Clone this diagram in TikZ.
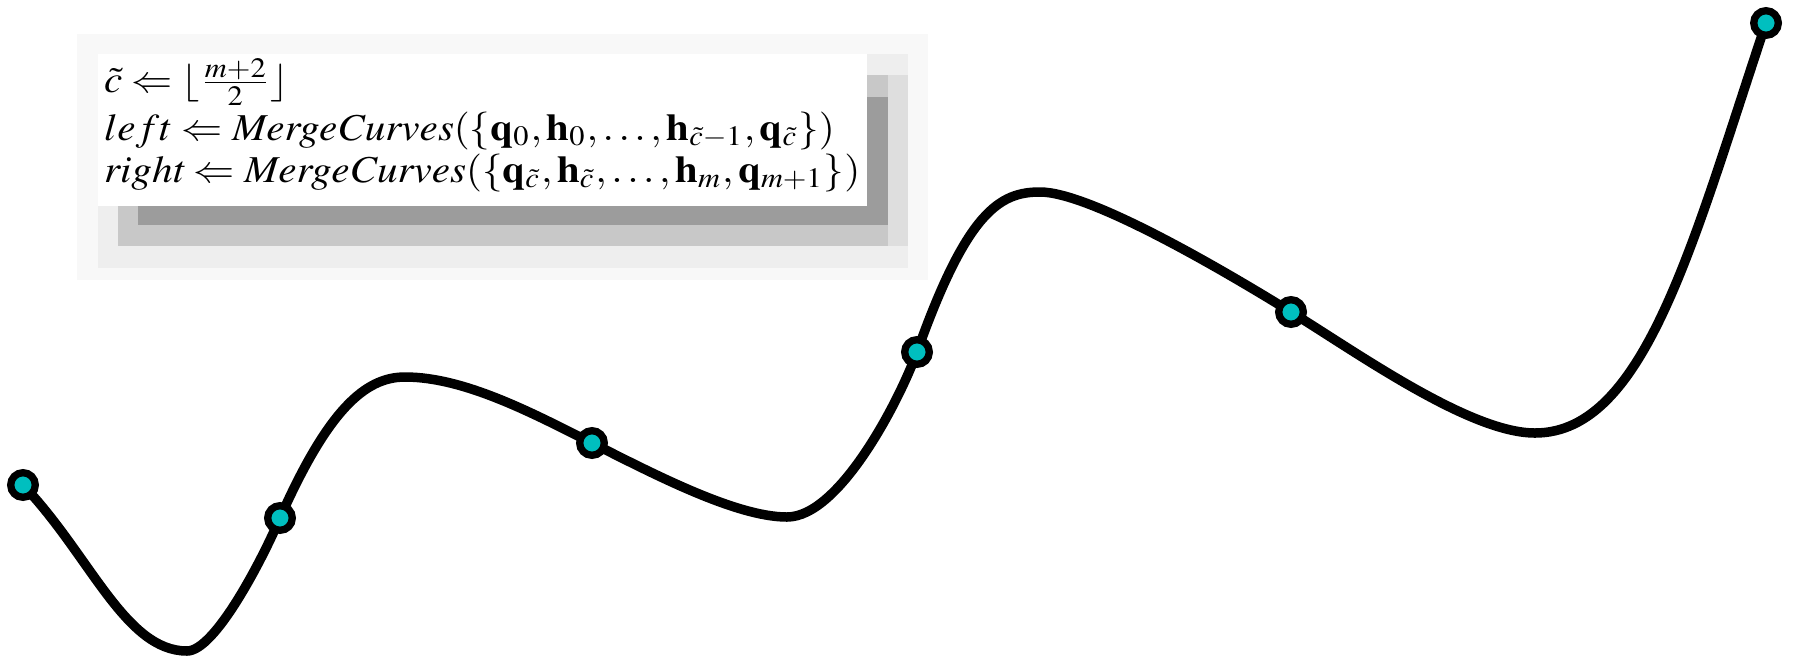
\documentclass[tikz,border=0pt]{standalone}
\usepackage{mathptmx}
\usepackage{graphicx}
\definecolor{dotcyan}{RGB}{0,191,191}
\definecolor{shA}{RGB}{248,248,248}
\definecolor{shB}{RGB}{238,238,238}
\definecolor{shBB}{RGB}{222,222,222}
\definecolor{shC}{RGB}{200,200,200}
\definecolor{shD}{RGB}{156,156,156}
\tikzset{
  curve/.style={line width=0.095cm, black},
  dot/.style={circle, draw=black, fill=dotcyan, line width=0.073cm, minimum size=0.246cm, inner sep=0pt},
  txt/.style={anchor=base west, inner sep=0pt, outer sep=0pt},
}
\newsavebox{\lthreebox}
\newcommand{\lineC}{$\mathit{right} \Leftarrow \mathit{MergeCurves}(\{\mathbf{q}_{\tilde{c}},\mathbf{h}_{\tilde{c}},\ldots,\mathbf{h}_m,\mathbf{q}_{m+1}\})$}
\begin{document}
\begin{tikzpicture}[x=0.01cm,y=-0.01cm]
\useasboundingbox (0,0) rectangle (1795,660);
% drop shadow of the pseudo-code box
\fill[shA] (77,34) rectangle (928,280);
\fill[shB] (98,54) rectangle (908,268);
\fill[shBB] (118,75) rectangle (908,246);
\fill[shC] (118,75) rectangle (888,246);
\fill[shD] (138,97) rectangle (888,225);
\fill[white] (98,54) rectangle (867,206);
% text
\sbox{\lthreebox}{\lineC}
\pgfmathsetmacro{\sx}{215.1/\the\wd\lthreebox}
\node[txt] (l1) at (104,92) {\scalebox{\sx}[1.08]{$\tilde{c} \Leftarrow \lfloor \frac{m+2}{2} \rfloor$}};
\node[txt] (l2) at (104,140) {\scalebox{\sx}[1.08]{$left \Leftarrow \mathit{MergeCurves}(\{\mathbf{q}_0,\mathbf{h}_0,\ldots,\mathbf{h}_{\tilde{c}-1},\mathbf{q}_{\tilde{c}}\})$}};
\node[txt] (l3) at (104,182) {\scalebox{\sx}[1.08]{\lineC}};
% curve points
\coordinate (q0) at (23,485);
\coordinate (e1) at (187,651);
\coordinate (q1) at (280,518);
\coordinate (e2) at (405,377);
\coordinate (q2) at (592,443);
\coordinate (e3) at (787,517);
\coordinate (q3) at (917,352);
\coordinate (e4) at (1040,192);
\coordinate (q4) at (1291,312);
\coordinate (e5) at (1535,433);
\coordinate (q5) at (1766,23);
\draw[curve] (q0) .. controls (90,555) and (125,651) .. (e1)
  .. controls (215,651) and (262,560) .. (q1)
  .. controls (328,410) and (365,377) .. (e2)
  .. controls (465,377) and (534,414) .. (q2)
  .. controls (650,472) and (735,517) .. (e3)
  .. controls (840,517) and (900,399) .. (q3)
  .. controls (967,211) and (1000,192) .. (e4)
  .. controls (1090,192) and (1223,270) .. (q4)
  .. controls (1359,354) and (1470,433) .. (e5)
  .. controls (1645,433) and (1693,241) .. (q5);
\node[dot] (d0) at (q0) {};
\node[dot] (d1) at (q1) {};
\node[dot] (d2) at (q2) {};
\node[dot] (d3) at (q3) {};
\node[dot] (d4) at (q4) {};
\node[dot] (d5) at (q5) {};
\end{tikzpicture}
\end{document}
